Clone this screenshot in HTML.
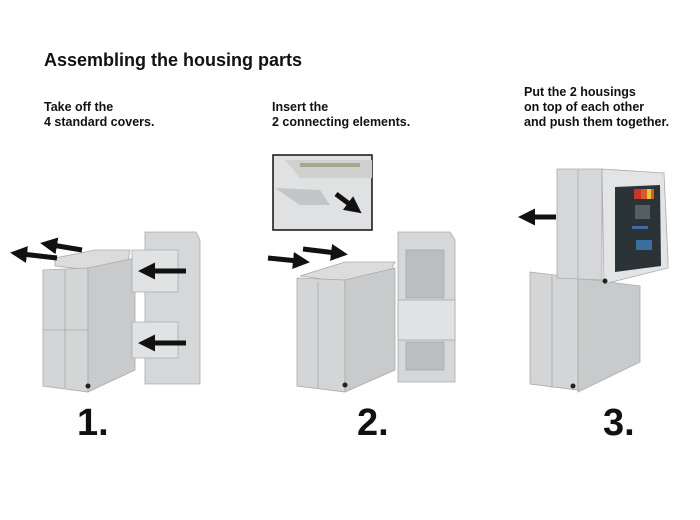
<!DOCTYPE html>
<html><head><style>
body{margin:0;background:#fff;width:700px;height:520px;overflow:hidden;position:relative;font-family:"Liberation Sans",Arial,sans-serif}
.t{position:absolute;font-weight:bold;color:#111}
</style></head><body>
<div class="t" style="left:44px;top:50px;font-size:18px">Assembling the housing parts</div>
<div class="t" style="left:44px;top:100px;font-size:12.5px;line-height:15px">Take off the<br>4 standard covers.</div>
<div class="t" style="left:272px;top:100px;font-size:12.5px;line-height:15px">Insert the<br>2 connecting elements.</div>
<div class="t" style="left:524px;top:85px;font-size:12.5px;line-height:15px">Put the 2 housings<br>on top of each other<br>and push them together.</div>
<div class="t" style="left:77px;top:402px;font-size:38px">1.</div>
<div class="t" style="left:357px;top:402px;font-size:38px">2.</div>
<div class="t" style="left:603px;top:402px;font-size:38px">3.</div>
<svg width="700" height="520" style="position:absolute;left:0;top:0">
<defs><marker id="a" markerWidth="3.4" markerHeight="3.4" refX="1" refY="1.7" orient="auto"><path d="M0,0L3.4,1.7L0,3.4z" fill="#111"/></marker></defs>
<g stroke="#aaa" stroke-width="0.8">
<polygon points="55,258 95,250 130,250 128,262 90,270 55,266" fill="#dcdcdc"/>
<polygon points="43,270 88,268 88,392 43,386" fill="#d3d5d6"/>
<polygon points="88,268 135,258 135,370 88,392" fill="#c8cacb"/>
<line x1="65" y1="270" x2="65" y2="388"/><line x1="43" y1="330" x2="88" y2="330"/>
<polygon points="145,232 196,232 200,240 200,384 145,384" fill="#d5d7d8"/>
<polygon points="132,250 178,250 178,292 132,292" fill="#e0e2e3"/>
<polygon points="132,322 178,322 178,358 132,358" fill="#e0e2e3"/>
<polygon points="300,276 345,262 395,262 390,272 345,282" fill="#dcdcdc"/>
<polygon points="297,278 345,280 345,392 297,386" fill="#d3d5d6"/>
<polygon points="345,280 395,268 395,370 345,392" fill="#c8cacb"/>
<line x1="318" y1="282" x2="318" y2="388"/>
<polygon points="398,232 450,232 455,240 455,382 398,382" fill="#d5d7d8"/>
<rect x="398" y="300" width="57" height="40" fill="#e0e2e3"/>
<rect x="406" y="250" width="38" height="48" fill="#bbbdbe"/>
<rect x="406" y="342" width="38" height="28" fill="#bbbdbe"/>
<polygon points="530,272 578,278 578,390 530,384" fill="#d3d5d6"/>
<polygon points="578,278 640,286 640,362 578,392" fill="#c8cacb"/>
<line x1="552" y1="276" x2="552" y2="388"/>
<polygon points="557,169 602,169 602,280 557,278" fill="#d5d7d8"/>
<polygon points="602,169 664,173 668,260 668,268 604,284" fill="#e2e4e5"/>
<line x1="578" y1="170" x2="578" y2="278"/>
</g>
<polygon points="615,187 660,185 661,266 615,272" fill="#2b3336"/>
<rect x="634" y="189" width="20" height="10" fill="#d65c25"/>
<rect x="634" y="189" width="7" height="10" fill="#c2392b"/>
<rect x="647" y="189" width="4" height="10" fill="#e8c540"/>
<rect x="635" y="205" width="15" height="14" fill="#556062"/>
<g fill="#3d6f9e"><rect x="632" y="226" width="16" height="3"/><rect x="636" y="240" width="16" height="10"/></g>
<circle cx="605" cy="281" r="2.5" fill="#222"/>
<circle cx="88" cy="386" r="2.5" fill="#222"/><circle cx="345" cy="385" r="2.5" fill="#222"/><circle cx="573" cy="386" r="2.5" fill="#222"/>
<rect x="273" y="155" width="99" height="75" fill="#dfe1e2" stroke="#111" stroke-width="1.5"/>
<polygon points="285,160 372,160 372,178 300,178" fill="#cfd1cf"/>
<rect x="300" y="163" width="60" height="4" fill="#a9a58e"/>
<polygon points="275,188 320,190 330,205 300,205" fill="#c3c5c6"/>
<g stroke="#111" stroke-width="5" marker-end="url(#a)">
<line x1="82" y1="250" x2="52" y2="245"/><line x1="57" y1="258" x2="22" y2="254"/>
<line x1="268" y1="258" x2="298" y2="261"/><line x1="303" y1="249" x2="336" y2="253"/>
<line x1="186" y1="271" x2="150" y2="271"/><line x1="186" y1="343" x2="150" y2="343"/>
<line x1="336" y1="194" x2="352" y2="206"/>
<line x1="556" y1="217" x2="530" y2="217"/>
</g>
</svg>
</body></html>
